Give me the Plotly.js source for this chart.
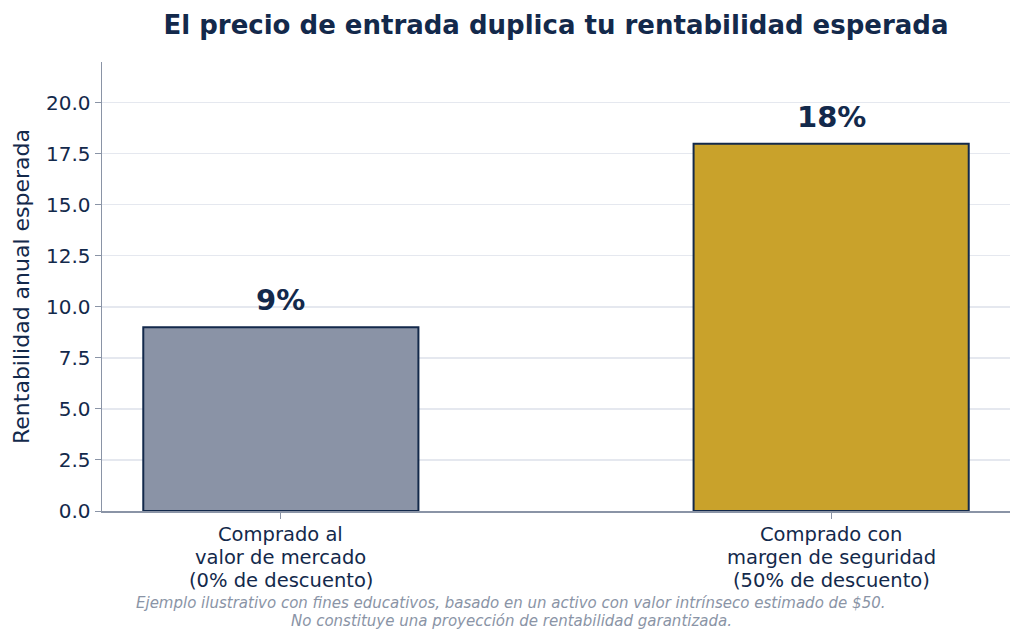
<!DOCTYPE html>
<html>
<head>
<meta charset="utf-8">
<script src="https://cdn.plot.ly/plotly-3.0.1.min.js"></script>
<style>
  html, body { margin: 0; padding: 0; background: #ffffff; }
  #grafico { width: 1024px; height: 643px; }
</style>
</head>
<body>
<div id="grafico"></div>
<script>
// Datos del gráfico
const categorias = [
    ["Comprado al", "valor de mercado", "(0% de descuento)"],
    ["Comprado con", "margen de seguridad", "(50% de descuento)"]
];
const rentabilidad = [9, 18];
const etiquetas = ["9%", "18%"];
const ticksY = [0, 2.5, 5, 7.5, 10, 12.5, 15, 17.5, 20];
const notaPie = [
    "Ejemplo ilustrativo con fines educativos, basado en un activo con valor intrínseco estimado de $50.",
    "No constituye una proyección de rentabilidad garantizada."
];

const AZUL = "#13294b";
const GRIS_EJE = "#8a94a6";
const coloresBarras = ["#8a93a6", "#c9a22b"];

const FUENTE = "DejaVu Sans, sans-serif";

const traceBarras = {
    type: "bar",
    x: [0, 1],
    y: rentabilidad,
    width: 0.5,
    marker: {
        color: coloresBarras,
        line: { color: AZUL, width: 2 }
    },
    hoverinfo: "skip"
};

// Etiquetas de valor sobre cada barra
const anotaciones = rentabilidad.map((v, i) => ({
    x: i,
    y: v,
    xref: "x",
    yref: "y",
    text: "<b>" + etiquetas[i] + "</b>",
    showarrow: false,
    yanchor: "bottom",
    yshift: 8,
    font: { family: FUENTE, size: 29, color: AZUL }
}));

// Etiquetas de categoría (una línea por anotación, para ajustar el interlineado)
categorias.forEach((lineas, i) => {
    lineas.forEach((linea, k) => {
        anotaciones.push({
            x: i,
            y: 0,
            xref: "x",
            yref: "paper",
            yanchor: "middle",
            yshift: -23 * (k + 1),
            text: linea,
            showarrow: false,
            font: { family: FUENTE, size: 19.5, color: AZUL }
        });
    });
});

// Nota al pie
notaPie.forEach((linea, k) => {
    anotaciones.push({
        x: (511 - 102) / 908,
        y: 0,
        xref: "paper",
        yref: "paper",
        xanchor: "center",
        yanchor: "middle",
        yshift: -92 - 18 * k,
        text: "<i>" + linea + "</i>",
        showarrow: false,
        font: { family: FUENTE, size: 15, color: GRIS_EJE }
    });
});

const layout = {
    width: 1024,
    height: 643,
    margin: { l: 102, r: 14, t: 62, b: 132 },
    paper_bgcolor: "#ffffff",
    plot_bgcolor: "#ffffff",
    showlegend: false,
    font: { family: FUENTE, color: AZUL },
    title: {
        text: "<b>El precio de entrada duplica tu rentabilidad esperada</b>",
        x: 0.5,
        xref: "paper",
        y: 1 - 25 / 643,
        yref: "container",
        yanchor: "middle",
        font: { family: FUENTE, size: 26, color: AZUL }
    },
    xaxis: {
        range: [-0.325, 1.325],
        tickvals: [0, 1],
        ticktext: ["", ""],
        showgrid: false,
        zeroline: false,
        showline: true,
        linecolor: GRIS_EJE,
        linewidth: 1.5,
        ticks: "outside",
        ticklen: 6,
        tickcolor: GRIS_EJE,
        fixedrange: true
    },
    yaxis: {
        range: [0, 22],
        tickvals: ticksY,
        tickformat: ".1f",
        tickfont: { family: FUENTE, size: 20, color: AZUL },
        showgrid: true,
        gridcolor: "#e5e8ef",
        gridwidth: 1.2,
        zeroline: false,
        showline: true,
        linecolor: GRIS_EJE,
        linewidth: 1.5,
        ticks: "outside",
        ticklen: 6,
        tickcolor: GRIS_EJE,
        title: {
            text: "Rentabilidad anual esperada",
            standoff: 10,
            font: { family: FUENTE, size: 22, color: AZUL }
        },
        fixedrange: true
    },
    annotations: anotaciones
};

Plotly.newPlot("grafico", [traceBarras], layout, { displayModeBar: false, staticPlot: true });
</script>
</body>
</html>
